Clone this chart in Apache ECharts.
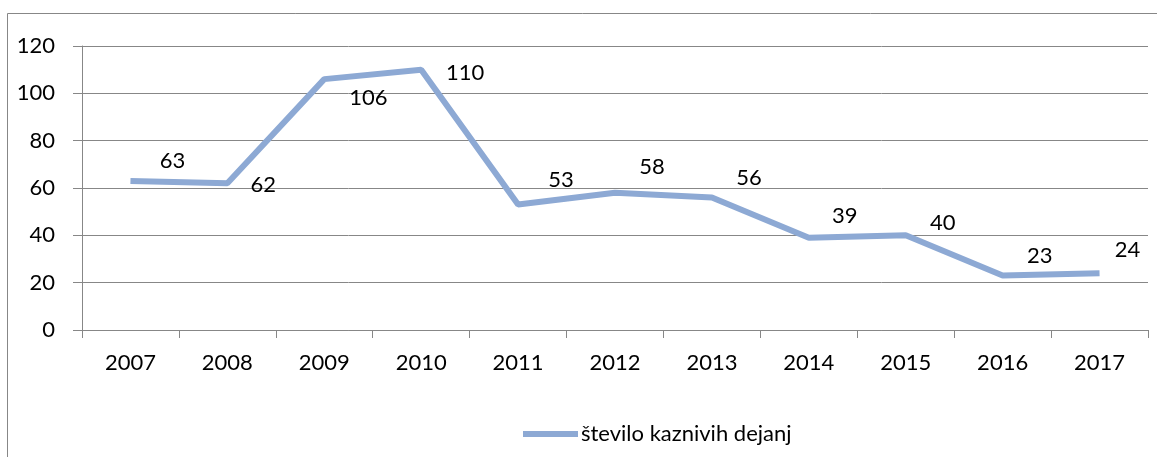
<!DOCTYPE html>
<html>
<head>
<meta charset="utf-8">
<script src="https://cdn.jsdelivr.net/npm/echarts@6/dist/echarts.min.js"></script>
<style>
  html, body { margin: 0; padding: 0; background: #fff; }
  #chart { width: 1157px; height: 457px; }
</style>
</head>
<body>
<div id="chart"></div>
<script>
const years = ['2007', '2008', '2009', '2010', '2011', '2012', '2013', '2014', '2015', '2016', '2017']
const offences = [63, 62, 106, 110, 53, 58, 56, 39, 40, 23, 24]
const seriesName = 'število kaznivih dejanj'
// label nudges, the source chart has hand-placed labels
const labelOffsets = [[42, -20], [36, 2], [44, 19], [44, 3], [43, -25], [37, -26], [37, -20], [36, -22], [37, -12], [37, -20], [28, -23]]

const font = 'Lato, "Noto Sans", sans-serif'
const gray = '#878787'
const lineColor = '#8DA9D4'

const chart = echarts.init(document.getElementById('chart'))
chart.setOption({
  animation: false,
  textStyle: { fontFamily: font },
  graphic: [{
    type: 'rect',
    shape: { x: 7.5, y: 13.5, width: 1170, height: 470 },
    style: { fill: 'none', stroke: gray, lineWidth: 1 },
    silent: true
  }],
  grid: { left: 82, right: 9, top: 46, bottom: 127 },
  legend: {
    top: 418,
    left: 518,
    itemWidth: 55,
    itemHeight: 6,
    itemGap: 4,
    textStyle: { fontFamily: font, fontSize: 22, color: '#000', padding: [0, 0, 0, -2] },
    data: [{ name: seriesName, icon: 'path://M0,0 L55,0 L55,6 L0,6 Z' }]
  },
  xAxis: {
    type: 'category',
    data: years,
    boundaryGap: true,
    axisLine: { lineStyle: { color: gray, width: 1 } },
    axisTick: { show: true, length: 8, lineStyle: { color: gray } },
    axisLabel: { color: '#000', fontSize: 22, margin: 22, fontFamily: font }
  },
  yAxis: {
    type: 'value',
    min: 0,
    max: 120,
    interval: 20,
    axisLine: { show: true, lineStyle: { color: gray, width: 1 } },
    axisTick: { show: true, length: 9, lineStyle: { color: gray } },
    axisLabel: { color: '#000', fontSize: 22, margin: 27, fontFamily: font },
    splitLine: { lineStyle: { color: gray, width: 1 } }
  },
  series: [{
    name: seriesName,
    type: 'line',
    symbol: 'circle',
    symbolSize: 0.1,
    itemStyle: { color: lineColor },
    lineStyle: { color: lineColor, width: 6 },
    label: {
      show: true,
      position: 'inside',
      color: '#000',
      fontSize: 22,
      fontFamily: font
    },
    data: offences.map((v, i) => ({ value: v, label: { offset: labelOffsets[i] } }))
  }]
})
</script>
</body>
</html>
